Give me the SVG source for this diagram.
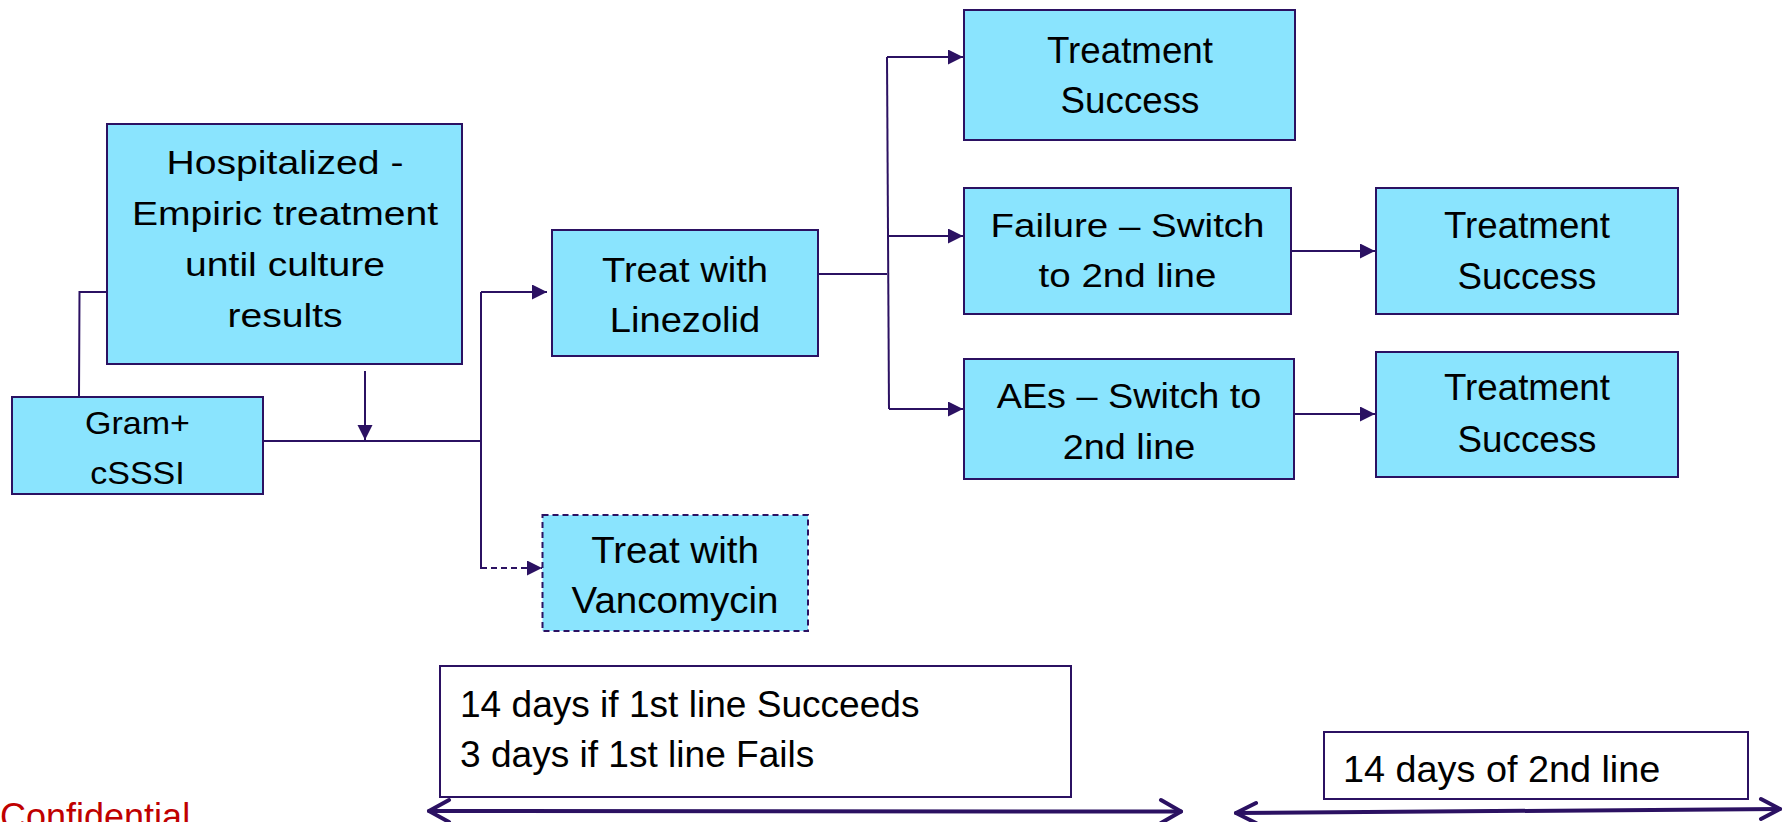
<svg xmlns="http://www.w3.org/2000/svg" width="1786" height="822" viewBox="0 0 1786 822">
<style>
.box{fill:#8AE4FE;stroke:#2B1162;stroke-width:2}
.dbox{fill:#8AE4FE;stroke:#2B1162;stroke-width:2;stroke-dasharray:6 4}
.note{fill:#FFFFFF;stroke:#2B1162;stroke-width:2}
.t{font-family:"Liberation Sans",Arial,sans-serif;fill:#000000;text-anchor:middle}
.tl{font-family:"Liberation Sans",Arial,sans-serif;fill:#000000}
.ln{fill:none;stroke:#2B1162;stroke-width:2}
.big{fill:none;stroke:#2B1162;stroke-width:4;stroke-linecap:round;stroke-linejoin:round}
</style>
<defs>
<marker id="ah" markerUnits="userSpaceOnUse" markerWidth="16" markerHeight="16" refX="15" refY="7.5" orient="auto">
<path d="M0,0 L15,7.5 L0,15 Z" fill="#2B1162"/>
</marker>
</defs>
<rect width="1786" height="822" fill="#FFFFFF"/>

<g id="connectors">
<polyline class="ln" points="79,397 79.5,292 107,292"/>
<line class="ln" x1="365" y1="371" x2="365" y2="440" marker-end="url(#ah)"/>
<line class="ln" x1="263" y1="441" x2="481" y2="441"/>
<line class="ln" x1="481" y1="292" x2="481" y2="569"/>
<line class="ln" x1="481" y1="292" x2="547" y2="292" marker-end="url(#ah)"/>
<line class="ln" x1="481" y1="568" x2="542" y2="568" stroke-dasharray="6 4" marker-end="url(#ah)"/>
<line class="ln" x1="818" y1="274" x2="887" y2="274"/>
<line class="ln" x1="887" y1="57" x2="889" y2="409"/>
<line class="ln" x1="887" y1="57" x2="963" y2="57" marker-end="url(#ah)"/>
<line class="ln" x1="888" y1="236" x2="963" y2="236" marker-end="url(#ah)"/>
<line class="ln" x1="889" y1="409" x2="963" y2="409" marker-end="url(#ah)"/>
<line class="ln" x1="1291" y1="251" x2="1375" y2="251" marker-end="url(#ah)"/>
<line class="ln" x1="1294" y1="414" x2="1375" y2="414" marker-end="url(#ah)"/>
<g id="span1">
<line class="big" x1="429" y1="811" x2="1181" y2="811.5"/>
<polyline class="big" points="449,800 429,811 449,822"/>
<polyline class="big" points="1161,800 1181,811.5 1161,823"/>
</g>
<g id="span2">
<line class="big" x1="1236" y1="813" x2="1780" y2="809"/>
<polyline class="big" points="1256,803 1236,813 1256,823"/>
<polyline class="big" points="1761,799 1780,809 1761,819"/>
</g>
</g>

<g id="n-hospitalized">
<rect class="box" x="107" y="124" width="355" height="240"/>
<g class="t" font-size="34" transform="translate(285,0) scale(1.15,1)">
<text x="0" y="174">Hospitalized -</text>
<text x="0" y="225">Empiric treatment</text>
<text x="0" y="276">until culture</text>
<text x="0" y="327">results</text>
</g>
</g>

<g id="n-gram">
<rect class="box" x="12" y="397" width="251" height="97"/>
<g class="t" font-size="31.5" transform="translate(137.5,0) scale(1.08,1)">
<text x="0" y="434">Gram+</text>
<text x="0" y="484">cSSSI</text>
</g>
</g>

<g id="n-linezolid">
<rect class="box" x="552" y="230" width="266" height="126"/>
<g class="t" font-size="35" transform="translate(685,0) scale(1.09,1)">
<text x="0" y="282">Treat with</text>
<text x="0" y="332">Linezolid</text>
</g>
</g>

<g id="n-vancomycin">
<rect class="dbox" x="542.5" y="515" width="265.5" height="116"/>
<g class="t" font-size="36" transform="translate(675,0) scale(1.07,1)">
<text x="0" y="563">Treat with</text>
<text x="0" y="613">Vancomycin</text>
</g>
</g>

<g id="n-success1">
<rect class="box" x="964" y="10" width="331" height="130"/>
<g class="t" font-size="36" transform="translate(1130,0) scale(1.02,1)">
<text x="0" y="63">Treatment</text>
<text x="0" y="113">Success</text>
</g>
</g>

<g id="n-failure">
<rect class="box" x="964" y="188" width="327" height="126"/>
<g class="t" font-size="33.5" transform="translate(1127.5,0) scale(1.15,1)">
<text x="0" y="237">Failure – Switch</text>
<text x="0" y="287">to 2nd line</text>
</g>
</g>

<g id="n-aes">
<rect class="box" x="964" y="359" width="330" height="120"/>
<g class="t" font-size="35" transform="translate(1129,0) scale(1.08,1)">
<text x="0" y="408">AEs – Switch to</text>
<text x="0" y="459">2nd line</text>
</g>
</g>

<g id="n-success2">
<rect class="box" x="1376" y="188" width="302" height="126"/>
<g class="t" font-size="36" transform="translate(1527,0) scale(1.02,1)">
<text x="0" y="238">Treatment</text>
<text x="0" y="289">Success</text>
</g>
</g>

<g id="n-success3">
<rect class="box" x="1376" y="352" width="302" height="125"/>
<g class="t" font-size="36" transform="translate(1527,0) scale(1.02,1)">
<text x="0" y="400">Treatment</text>
<text x="0" y="452">Success</text>
</g>
</g>

<g id="n-duration1">
<rect class="note" x="440" y="666" width="631" height="131"/>
<g class="tl" font-size="36" transform="translate(460,0) scale(1.03,1)">
<text x="0" y="717">14 days if 1st line Succeeds</text>
<text x="0" y="767">3 days if 1st line Fails</text>
</g>
</g>

<g id="n-duration2">
<rect class="note" x="1324" y="732" width="424" height="67"/>
<g class="tl" font-size="36" transform="translate(1343,0) scale(1.05,1)">
<text x="0" y="782">14 days of 2nd line</text>
</g>
</g>

<text id="confidential" x="0" y="829" font-family="'Liberation Sans',Arial,sans-serif" font-size="36" fill="#C00000">Confidential</text>
</svg>
